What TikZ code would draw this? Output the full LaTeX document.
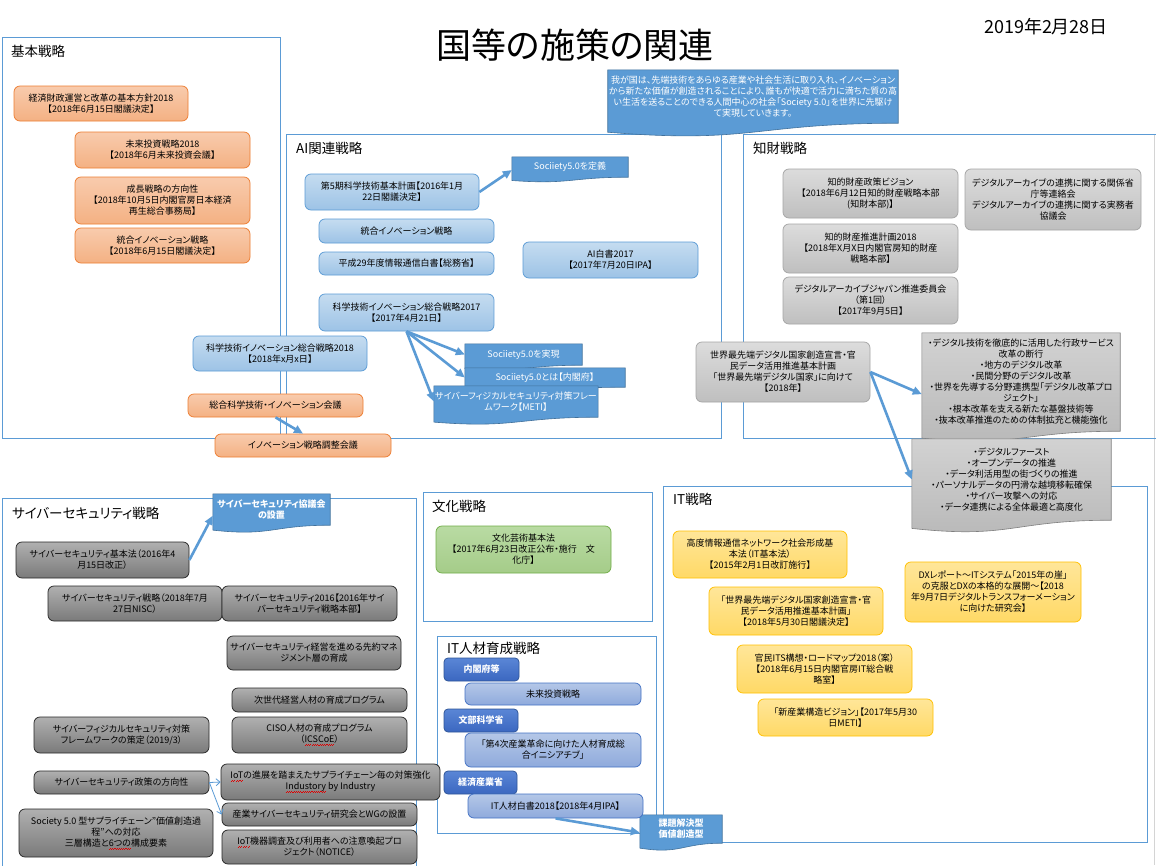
\documentclass[tikz,border=0pt]{standalone}
\usepackage{fontspec}
\setmainfont{Noto Sans CJK JP}[RawFeature={+palt}]
\usepackage{tikz}
\usetikzlibrary{arrows.meta, calc, backgrounds}

\definecolor{frameblue}{HTML}{5B9BD5}
\definecolor{arrowblue}{HTML}{5B9BD5}
\definecolor{edgegray}{HTML}{D4D4D4}
\definecolor{orangetop}{HTML}{F8CBAD}
\definecolor{orangebot}{HTML}{F4B183}
\definecolor{orangeline}{HTML}{ED7D31}
\definecolor{aitop}{HTML}{C5DCF0}
\definecolor{aibot}{HTML}{9DC3E6}
\definecolor{ailine}{HTML}{5B9BD5}
\definecolor{graytop}{HTML}{DCDCDC}
\definecolor{graybot}{HTML}{BFBFBF}
\definecolor{grayline}{HTML}{A5A5A5}
\definecolor{cybtop}{HTML}{B0B0B0}
\definecolor{cybbot}{HTML}{7A7A7A}
\definecolor{cybline}{HTML}{262626}
\definecolor{yeltop}{HTML}{FFE699}
\definecolor{yelbot}{HTML}{FFD966}
\definecolor{yelline}{HTML}{FFC000}
\definecolor{grntop}{HTML}{B9DBA3}
\definecolor{grnbot}{HTML}{A5CC89}
\definecolor{grnline}{HTML}{70AD47}
\definecolor{purtop}{HTML}{B4C7E7}
\definecolor{purbot}{HTML}{8FAADC}
\definecolor{purline}{HTML}{4472C4}
\definecolor{headtop}{HTML}{5A86D6}
\definecolor{headbot}{HTML}{3B67C0}
\definecolor{headline}{HTML}{2F5597}
\definecolor{callblue}{HTML}{5B9BD5}
\definecolor{callline}{HTML}{41719C}
\definecolor{callgtop}{HTML}{D2D2D2}
\definecolor{callgbot}{HTML}{B8B8B8}
\definecolor{callgline}{HTML}{7F7F7F}
\definecolor{spellred}{HTML}{E00000}

\newcommand{\boxfont}{\fontsize{9}{11}\selectfont}
\newcommand{\secfont}{\fontsize{13.5}{14}\selectfont}
\newcommand{\redwave}[1]{\leavevmode\setbox0\hbox{#1}%
  \rlap{\color{spellred}\hbox to\wd0{\xleaders\hbox{\rule[-3.2pt]{1.1pt}{0.8pt}\rule[-2.4pt]{1.1pt}{0.8pt}}\hfil}}#1}
\newcommand{\docshape}[3]{%
  \path[#2] let \p1=(#1.north west), \p2=(#1.south east) in
    (\p1) -- (\x2,\y1) -- (\p2)
    .. controls ({(\x1+\x2)/2},\y2) and ({(\x1+\x2)/2},{\y2-1.9*#3}) ..
    (\x1,{\y2-0.82*#3}) -- cycle;}

\tikzset{
  frame/.style={draw=frameblue, line width=0.8pt},
  sectitle/.style={anchor=west, font=\secfont, inner sep=0pt},
  box/.style={rounded corners=6pt, align=center, font=\boxfont, inner sep=1pt, line width=0.75pt},
  orangebox/.style={box, draw=orangeline, top color=orangetop, bottom color=orangebot},
  aibox/.style={box, draw=ailine, top color=aitop, bottom color=aibot},
  graybox/.style={box, draw=grayline, top color=graytop, bottom color=graybot},
  cybbox/.style={box, draw=cybline, top color=cybtop, bottom color=cybbot},
  yelbox/.style={box, draw=yelline, top color=yeltop, bottom color=yelbot},
  grnbox/.style={box, draw=grnline, top color=grntop, bottom color=grnbot},
  purbox/.style={box, draw=purline, top color=purtop, bottom color=purbot},
  headbox/.style={box, rounded corners=4pt, draw=headline, top color=headtop, bottom color=headbot, text=white, font=\boxfont\bfseries},
  calltext/.style={align=center, font=\boxfont, inner sep=1pt},
  bluecall/.style={fill=callblue, draw=callline, line width=0.6pt},
  graycall/.style={top color=callgtop, bottom color=callgbot, draw=callgline, line width=0.6pt},
  bigarrow/.style={draw=arrowblue, line width=2.6pt, -{Triangle[length=9pt,width=8pt]}},
  thinarrow/.style={draw=arrowblue, line width=0.8pt, -{Straight Barb[length=4pt,width=7pt]}}
}

\begin{document}
\begin{tikzpicture}[x=1pt,y=-1pt]
\useasboundingbox (0,0) rectangle (1156,865);
\begin{scope}[on background layer]
\fill[white] (0,0) rectangle (1156,865);
\end{scope}

\node[font=\fontsize{35}{36}\selectfont] (title) at (575,45) {国等の施策の関連};
\node[font=\fontsize{18}{19}\selectfont] (date) at (1046,27) {2019年2月28日};

\node[sectitle] (t_kihon) at (11,51) {基本戦略};
\node[sectitle] (t_ai) at (296,148) {AI関連戦略};
\node[sectitle] (t_chizai) at (753,148) {知財戦略};
\node[sectitle] (t_cyber) at (12,513) {サイバーセキュリティ戦略};
\node[sectitle] (t_bunka) at (432,506) {文化戦略};
\node[sectitle] (t_jinzai) at (447,648) {IT人材育成戦略};
\node[sectitle] (t_it) at (673,499) {IT戦略};

\node[orangebox, minimum width=174pt, minimum height=35pt] (k1) at (101,103.5) {経済財政運営と改革の基本方針2018\\【2018年6月15日閣議決定】};
\node[orangebox, minimum width=175pt, minimum height=36pt] (k2) at (162.5,150) {未来投資戦略2018\\【2018年6月未来投資会議】};
\node[orangebox, minimum width=175pt, minimum height=47pt] (k3) at (162.5,200.5) {成長戦略の方向性\\【2018年10月5日内閣官房日本経済\\再生総合事務局】};
\node[orangebox, minimum width=175pt, minimum height=35pt] (k4) at (162.5,245.5) {統合イノベーション戦略\\【2018年6月15日閣議決定】};

\node[calltext, text=white, minimum width=288pt, minimum height=53pt] (s0) at (753,96.5) {我が国は、先端技術をあらゆる産業や社会生活に取り入れ、イノベーション\\から新たな価値が創造されることにより、誰もが快適で活力に満ちた質の高\\い生活を送ることのできる人間中心の社会「Society 5.0」を世界に先駆け\\て実現していきます。};

\node[aibox, minimum width=174pt, minimum height=36pt] (a1) at (392,192) {第5期科学技術基本計画【2016年1月\\22日閣議決定】};
\node[calltext, text=white, minimum width=116pt, minimum height=20pt] (s1) at (570,167) {Sociiety5.0を定義};
\node[aibox, minimum width=175pt, minimum height=24pt] (a2) at (406.5,231) {統合イノベーション戦略};
\node[aibox, minimum width=175pt, minimum height=23pt] (a3) at (406.5,263.5) {平成29年度情報通信白書【総務省】};
\node[aibox, minimum width=175pt, minimum height=36pt] (a4) at (610.5,260) {AI白書2017\\【2017年7月20日IPA】};
\node[aibox, minimum width=175pt, minimum height=37pt] (a5) at (406.5,312.5) {科学技術イノベーション総合戦略2017\\【2017年4月21日】};
\node[aibox, minimum width=174pt, minimum height=35pt] (a6) at (280,353.5) {科学技術イノベーション総合戦略2018\\【2018年x月x日】};
\node[calltext, text=white, minimum width=117pt, minimum height=21pt] (s2) at (523.5,354.5) {Sociiety5.0を実現};
\node[calltext, text=white, minimum width=160pt, minimum height=19pt] (s3) at (545,377.5) {Sociiety5.0とは【内閣府】};
\node[calltext, text=white, minimum width=160pt, minimum height=31pt] (s4) at (516,401.5) {サイバーフィジカルセキュリティ対策フレー\\ムワーク【METI】};
\node[orangebox, minimum width=175pt, minimum height=23pt] (o1) at (275.5,405.5) {総合科学技術・イノベーション会議};
\node[orangebox, minimum width=176pt, minimum height=23pt] (o2) at (303,445.5) {イノベーション戦略調整会議};

\node[graybox, minimum width=175pt, minimum height=49pt] (c1) at (870.5,193.5) {知的財産政策ビジョン\\【2018年6月12日知的財産戦略本部\\(知財本部)】};
\node[graybox, minimum width=176pt, minimum height=61pt] (c2) at (1053,199.5) {デジタルアーカイブの連携に関する関係省\\庁等連絡会\\デジタルアーカイブの連携に関する実務者\\協議会};
\node[graybox, minimum width=175pt, minimum height=49pt] (c3) at (870.5,248.5) {知的財産推進計画2018\\【2018年X月X日内閣官房知的財産\\戦略本部】};
\node[graybox, minimum width=175pt, minimum height=47pt] (c4) at (870.5,300.5) {デジタルアーカイブジャパン推進委員会\\（第1回）\\【2017年9月5日】};
\node[graybox, minimum width=174pt, minimum height=60pt] (c5) at (783,372) {世界最先端デジタル国家創造宣言・官\\民データ活用推進基本計画\\「世界最先端デジタル国家」に向けて\\【2018年】};
\node[calltext, minimum width=198pt, minimum height=98pt] (g1) at (1021,382) {・デジタル技術を徹底的に活用した行政サービス\\改革の断行\\・地方のデジタル改革\\・民間分野のデジタル改革\\・世界を先導する分野連携型「デジタル改革プロ\\ジェクト」\\・根本改革を支える新たな基盤技術等\\・抜本改革推進のための体制拡充と機能強化};
\node[calltext, minimum width=199pt, minimum height=81pt] (g2) at (1011.5,479.5) {・デジタルファースト\\・オープンデータの推進\\・データ利活用型の街づくりの推進\\・パーソナルデータの円滑な越境移転確保\\・サイバー攻撃への対応\\・データ連携による全体最適と高度化};

\node[yelbox, minimum width=174pt, minimum height=47pt] (y1) at (760,554.5) {高度情報通信ネットワーク社会形成基\\本法（IT基本法）\\【2015年2月1日改訂施行】};
\node[yelbox, minimum width=174pt, minimum height=48pt] (y2) at (796,611) {「世界最先端デジタル国家創造宣言・官\\民データ活用推進基本計画」\\【2018年5月30日閣議決定】};
\node[yelbox, minimum width=175pt, minimum height=48pt] (y3) at (824.5,669) {官民ITS構想・ロードマップ2018（案）\\【2018年6月15日内閣官房IT総合戦\\略室】};
\node[yelbox, minimum width=175pt, minimum height=37pt] (y4) at (845.5,717.5) {「新産業構造ビジョン」【2017年5月30\\日METI】};
\node[yelbox, minimum width=176pt, minimum height=60pt] (y5) at (993,592) {DXレポート～ITシステム「2015年の崖」\\の克服とDXの本格的な展開～【2018\\年9月7日デジタルトランスフォーメーション\\に向けた研究会】};

\node[grnbox, minimum width=175pt, minimum height=47pt] (b1) at (523.5,549.5) {文化芸術基本法\\【2017年6月23日改正公布・施行　文\\化庁】};

\node[headbox, minimum width=75pt, minimum height=23pt] (h1) at (481.5,669.5) {内閣府等};
\node[purbox, minimum width=176pt, minimum height=22pt] (p1) at (553,694) {未来投資戦略};
\node[headbox, minimum width=74pt, minimum height=23pt] (h2) at (481,720.5) {文部科学省};
\node[purbox, minimum width=176pt, minimum height=34pt] (p2) at (553,750) {「第4次産業革命に向けた人材育成総\\合イニシアチブ」};
\node[headbox, minimum width=73pt, minimum height=23pt] (h3) at (480.5,782.5) {経済産業省};
\node[purbox, minimum width=175pt, minimum height=24pt] (p3) at (555.5,806) {IT人材白書2018【2018年4月IPA】};
\node[calltext, text=white, font=\boxfont\bfseries, minimum width=82pt, minimum height=28pt] (t1) at (681,829) {課題解決型\\価値創造型};

\node[calltext, text=white, font=\boxfont\bfseries, minimum width=117pt, minimum height=31pt] (cc) at (271.5,509.5) {サイバーセキュリティ協議会\\の設置};
\node[cybbox, minimum width=173pt, minimum height=36pt] (x1) at (102.5,560) {サイバーセキュリティ基本法（2016年4\\月15日改正）};
\node[cybbox, minimum width=174pt, minimum height=35pt] (x2) at (135,603.5) {サイバーセキュリティ戦略（2018年7月\\27日NISC）};
\node[cybbox, minimum width=175pt, minimum height=35pt] (x3) at (309.5,603.5) {サイバーセキュリティ2016【2016年サイ\\バーセキュリティ戦略本部】};
\node[cybbox, minimum width=174pt, minimum height=34pt] (x4) at (314,653) {サイバーセキュリティ経営を進める先約マネ\\ジメント層の育成};
\node[cybbox, minimum width=175pt, minimum height=24pt] (x5) at (319.5,700) {次世代経営人材の育成プログラム};
\node[cybbox, minimum width=175pt, minimum height=36pt] (x6) at (319.5,735) {CISO人材の育成プログラム\\（\redwave{ICSCoE}）};
\node[cybbox, minimum width=175pt, minimum height=36pt] (x7) at (121.5,735) {サイバーフィジカルセキュリティ対策\\フレームワークの策定（2019/3）};
\node[cybbox, minimum width=175pt, minimum height=23pt] (x8) at (121.5,782.5) {サイバーセキュリティ政策の方向性};
\node[cybbox, minimum width=219pt, minimum height=36pt] (x9) at (330.5,782) {\redwave{IoT}の進展を踏まえたサプライチェーン毎の対策強化\\\redwave{Industory} by Industry};
\node[cybbox, minimum width=195pt, minimum height=23pt] (x10) at (319.5,814.5) {産業サイバーセキュリティ研究会とWGの設置};
\node[cybbox, minimum width=195pt, minimum height=34pt] (x11) at (319.5,847) {\redwave{IoT}機器調査及び利用者への注意喚起プロ\\ジェクト（NOTICE）};
\node[cybbox, minimum width=194pt, minimum height=48pt] (x12) at (116,833) {Society 5.0 型サプライチェーン”価値創造過\\程”への対応\\三層構造と\redwave{6つの}構成要素};

\draw[bigarrow] (a1.east) -- (s1.183);
\draw[bigarrow] (a5.south) -- (s2.west);
\draw[bigarrow] (a5.south) -- (s3.west);
\draw[bigarrow] (a5.south) -- (s4.west);
\draw[bigarrow] (o1.south) -- (o2.north);
\draw[bigarrow] (c5.east) -- (g1.187);
\draw[bigarrow] (c5.east) -- (g2.west);
\draw[bigarrow] (x1.east) -- (cc.186);
\draw[bigarrow] (p3.south) -- (t1.185);
\draw[thinarrow] (x8.east) -- (x9.west);
\draw[thinarrow] (x8.east) -- (x10.west);

\begin{scope}[on background layer]
\draw[edgegray, line width=1pt] (1154,134) -- (1154,865);
\draw[frame] (2,37) rectangle (280,438);
\draw[frame] (286,134) rectangle (721,438);
\draw[frame] (1156,134) -- (743,134) -- (743,438) -- (1156,438);
\draw[frame] (2,498) rectangle (416,870);
\draw[frame] (423,492) rectangle (652,621);
\draw[frame] (437,636) rectangle (656,833);
\draw[frame] (663,486) rectangle (1147,842);
\docshape{s0}{bluecall}{11}
\docshape{s1}{bluecall}{4}
\docshape{s2}{bluecall}{4}
\docshape{s3}{bluecall}{4}
\docshape{s4}{bluecall}{6}
\docshape{g1}{graycall}{8.5}
\docshape{g2}{graycall}{10}
\docshape{cc}{bluecall}{6}
\docshape{t1}{bluecall}{6}
\end{scope}
\end{tikzpicture}
\end{document}
